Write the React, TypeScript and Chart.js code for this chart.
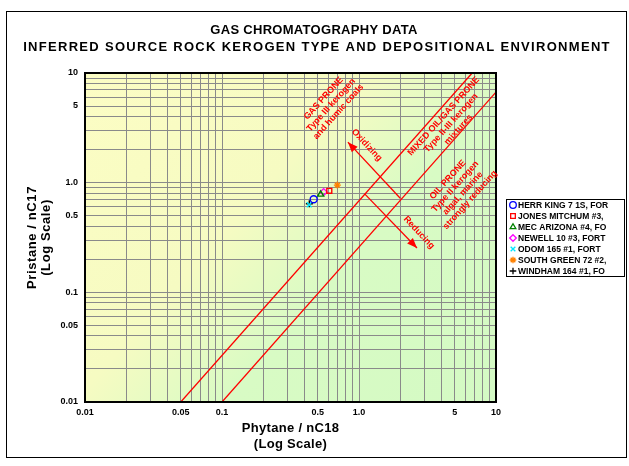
import React, { useEffect, useRef } from 'react';
import { Chart, registerables } from 'chart.js';
import { drawPoint } from 'chart.js/helpers';

Chart.register(...registerables);

const FONT = "'Liberation Sans', Arial, sans-serif";

// ---- data ----
const seriesNames = [
  'HERR KING 7 1S, FOR',
  'JONES MITCHUM #3,',
  'MEC ARIZONA #4, FO',
  'NEWELL 10 #3, FORT',
  'ODOM 165 #1, FORT',
  'SOUTH GREEN 72 #2,',
  'WINDHAM 164 #1, FO',
];
const phytaneValues = [0.467, 0.607, 0.525, 0.552, 0.433, 0.695, 0.434];
const pristaneValues = [0.705, 0.843, 0.782, 0.82, 0.63, 0.95, 0.643];
const seriesStyles = ['circle', 'rect', 'triangle', 'rectRot', 'crossRot', 'star', 'cross'];
const seriesColors = ['#0000FF', '#FF0000', '#008000', '#FF00FF', '#00E5FF', '#FF8000', '#000000'];

// boundary lines (Phytane, Pristane)
const gasLineX = [0.05, 6.7];
const gasLineY = [0.01, 10];
const oilLineX = [0.1, 10];
const oilLineY = [0.01, 6.7];
// arrows: start -> tip
const oxidizingX = [2.0, 0.83];
const oxidizingY = [0.72, 2.34];
const reducingX = [1.1, 2.65];
const reducingY = [0.79, 0.254];

// tick labels
const xTickValues = [0.01, 0.05, 0.1, 0.5, 1, 5, 10];
const xTickLabels = ['0.01', '0.05', '0.1', '0.5', '1.0', '5', '10'];
const yTickValues = [0.01, 0.05, 0.1, 0.5, 1, 5, 10];
const yTickLabels = ['0.01', '0.05', '0.1', '0.5', '1.0', '5', '10'];
const decades = [0.01, 0.1, 1];
const multipliers = [1, 2, 3, 4, 5, 6, 7, 8, 9];

// annotations
const annotationTexts = [
  ['GAS PRONE', 'Type III kerogen', 'and humic coals'],
  ['MIXED OIL/GAS PRONE', 'Type II-III kerogen', 'mixtures'],
  ['OIL PRONE', 'Type II kerogen', 'algal, marine', 'strongly reducing'],
  ['Oxidizing'],
  ['Reducing'],
];
const annotationX = [0.625, 4.7, 5.37, 1.14, 2.74];
const annotationY = [5.1, 3.5, 0.86, 2.2, 0.35];
const annotationAngle = [-48, -48, -48, 47, 47];

const titleLines = ['GAS CHROMATOGRAPHY DATA', 'INFERRED SOURCE ROCK KEROGEN TYPE AND DEPOSITIONAL ENVIRONMENT'];
const xTitleLines = ['Phytane / nC18', '(Log Scale)'];
const yTitleLines = ['Pristane / nC17', '(Log Scale)'];

const gridValues: number[] = [];
decades.forEach((d) => multipliers.forEach((m) => gridValues.push(Number((m * d).toPrecision(3)))));
gridValues.push(10);

function labelFor(v: number, values: number[], labels: string[]) {
  for (let i = 0; i < values.length; i++) {
    if (Math.abs(v - values[i]) / values[i] < 1e-6) return labels[i];
  }
  return '';
}

function pts(xs: number[], ys: number[]) {
  return xs.map((x, i) => ({ x, y: ys[i] }));
}

const decorPlugin = {
  id: 'decor',
  beforeDraw(chart: any) {
    const { ctx, chartArea: a } = chart;
    ctx.save();
    ctx.fillStyle = '#FFFFFF';
    ctx.fillRect(0, 0, chart.width, chart.height);
    // outer frame
    ctx.strokeStyle = '#000';
    ctx.lineWidth = 1;
    ctx.strokeRect(6.5, 11.5, 620, 446);
    // plot gradient: isolines parallel to boundary lines
    const ux = 0.746, uy = 0.666;
    const w = a.right - a.left, h = a.bottom - a.top;
    const len = w * ux + h * uy;
    const g = ctx.createLinearGradient(a.left, a.top, a.left + ux * len, a.top + uy * len);
    g.addColorStop(0, '#FCFDC4');
    g.addColorStop(0.4, '#F6FBC2');
    g.addColorStop(0.62, '#D8FBC4');
    g.addColorStop(1, '#D4FAC4');
    ctx.fillStyle = g;
    ctx.fillRect(a.left, a.top, w, h);
    ctx.restore();
  },
  afterDraw(chart: any) {
    const { ctx, chartArea: a, scales } = chart;
    const xs = scales.x, ys = scales.y;
    ctx.save();
    // plot border
    ctx.strokeStyle = '#000';
    ctx.lineWidth = 2;
    ctx.strokeRect(a.left, a.top, a.right - a.left, a.bottom - a.top);

    // arrowheads
    const arrow = (xv: number[], yv: number[]) => {
      const x0 = xs.getPixelForValue(xv[0]), y0 = ys.getPixelForValue(yv[0]);
      const x1 = xs.getPixelForValue(xv[1]), y1 = ys.getPixelForValue(yv[1]);
      const ang = Math.atan2(y1 - y0, x1 - x0);
      const L = 10, W = 4;
      ctx.fillStyle = '#FF0000';
      ctx.beginPath();
      ctx.moveTo(x1, y1);
      ctx.lineTo(x1 - L * Math.cos(ang) + W * Math.sin(ang), y1 - L * Math.sin(ang) - W * Math.cos(ang));
      ctx.lineTo(x1 - L * Math.cos(ang) - W * Math.sin(ang), y1 - L * Math.sin(ang) + W * Math.cos(ang));
      ctx.closePath();
      ctx.fill();
    };
    arrow(oxidizingX, oxidizingY);
    arrow(reducingX, reducingY);

    // annotations
    ctx.fillStyle = '#FF0000';
    ctx.font = `bold 9px ${FONT}`;
    ctx.textAlign = 'center';
    ctx.textBaseline = 'middle';
    annotationTexts.forEach((lines, i) => {
      const px = xs.getPixelForValue(annotationX[i]);
      const py = ys.getPixelForValue(annotationY[i]);
      ctx.save();
      ctx.translate(px, py);
      ctx.rotate((annotationAngle[i] * Math.PI) / 180);
      const lh = 10;
      lines.forEach((t, j) => {
        ctx.fillText(t, 0, (j - (lines.length - 1) / 2) * lh);
      });
      ctx.restore();
    });

    // legend
    const lx = 506.5, ly = 199.5, lw = 118, lh2 = 77;
    ctx.fillStyle = '#FFFFFF';
    ctx.fillRect(lx, ly, lw, lh2);
    ctx.strokeStyle = '#000';
    ctx.lineWidth = 1;
    ctx.strokeRect(lx, ly, lw, lh2);
    ctx.font = `bold 8.5px ${FONT}`;
    ctx.textAlign = 'left';
    ctx.textBaseline = 'middle';
    seriesNames.forEach((n, i) => {
      const y = 205 + i * 11;
      ctx.strokeStyle = seriesColors[i];
      ctx.fillStyle = 'rgba(0,0,0,0)';
      ctx.lineWidth = 1.3;
      drawPoint(ctx, { pointStyle: seriesStyles[i], radius: 3.3, rotation: 0, borderWidth: 1.3 } as any, 513, y);
      ctx.fillStyle = '#000';
      ctx.fillText(n, 518, y + 0.5);
    });

    // titles
    ctx.fillStyle = '#000';
    ctx.textAlign = 'center';
    ctx.textBaseline = 'middle';
    ctx.font = `bold 13px ${FONT}`;
    (ctx as any).letterSpacing = '0.3px';
    ctx.fillText(titleLines[0], 314, 30);
    (ctx as any).letterSpacing = '1.3px';
    ctx.fillText(titleLines[1], 317, 47);
    (ctx as any).letterSpacing = '0px';
    const cx = (a.left + a.right) / 2;
    ctx.font = `bold 13px ${FONT}`;
    (ctx as any).letterSpacing = '0.3px';
    ctx.fillText(xTitleLines[0], cx, 428);
    ctx.fillText(xTitleLines[1], cx, 444);
    const cy = (a.top + a.bottom) / 2;
    ctx.save();
    ctx.translate(32, cy);
    ctx.rotate(-Math.PI / 2);
    (ctx as any).letterSpacing = '0.6px';
    ctx.fillText(yTitleLines[0], 0, 0);
    ctx.fillText(yTitleLines[1], 0, 14);
    ctx.restore();
    (ctx as any).letterSpacing = '0px';
    ctx.restore();
  },
};

export default function App() {
  const ref = useRef<HTMLCanvasElement | null>(null);
  useEffect(() => {
    if (!ref.current) return;
    const scatterSets = seriesNames.map((name, i) => ({
      label: name,
      data: [{ x: phytaneValues[i], y: pristaneValues[i] }],
      pointStyle: seriesStyles[i],
      pointRadius: 3.5,
      pointBorderWidth: 1.4,
      borderColor: seriesColors[i],
      backgroundColor: 'rgba(0,0,0,0)',
      showLine: false,
    }));
    const lineSet = (label: string, xv: number[], yv: number[]) => ({
      label,
      data: pts(xv, yv),
      showLine: true,
      borderColor: '#FF0000',
      borderWidth: 1.3,
      pointRadius: 0,
      fill: false,
    });
    const chart = new Chart(ref.current, {
      type: 'scatter',
      data: {
        datasets: [
          ...scatterSets,
          lineSet('gas', gasLineX, gasLineY),
          lineSet('oil', oilLineX, oilLineY),
          lineSet('oxidizing', oxidizingX, oxidizingY),
          lineSet('reducing', reducingX, reducingY),
        ] as any,
      },
      options: {
        responsive: false,
        animation: false,
        devicePixelRatio: 1,
        layout: { padding: { left: 0, right: 133, top: 73, bottom: 0 } },
        plugins: { legend: { display: false }, tooltip: { enabled: false }, title: { display: false } },
        scales: {
          x: {
            type: 'logarithmic',
            min: 0.01,
            max: 10,
            position: 'bottom',
            afterBuildTicks: (s: any) => {
              s.ticks = gridValues.map((v) => ({ value: v }));
            },
            afterFit: (s: any) => {
              s.height = 64;
            },
            ticks: {
              autoSkip: false,
              maxRotation: 0,
              minRotation: 0,
              padding: 5,
              color: '#000',
              font: { family: FONT, size: 9, weight: 'bold' },
              callback: (v: any) => labelFor(Number(v), xTickValues, xTickLabels),
            },
            grid: { color: '#8A8A8A', lineWidth: 1, drawTicks: false },
            border: { display: false },
          },
          y: {
            type: 'logarithmic',
            min: 0.01,
            max: 10,
            position: 'left',
            afterBuildTicks: (s: any) => {
              s.ticks = gridValues.map((v) => ({ value: v }));
            },
            afterFit: (s: any) => {
              s.width = 85;
            },
            ticks: {
              autoSkip: false,
              padding: 7,
              color: '#000',
              font: { family: FONT, size: 9, weight: 'bold' },
              callback: (v: any) => labelFor(Number(v), yTickValues, yTickLabels),
            },
            grid: { color: '#8A8A8A', lineWidth: 1, drawTicks: false },
            border: { display: false },
          },
        },
      } as any,
      plugins: [decorPlugin],
    });
    return () => chart.destroy();
  }, []);
  return (
    <div style={{ position: 'absolute', left: 0, top: 0, width: 629, height: 466 }}>
      <canvas ref={ref} width={629} height={466} style={{ display: 'block', width: 629, height: 466 }} />
    </div>
  );
}
